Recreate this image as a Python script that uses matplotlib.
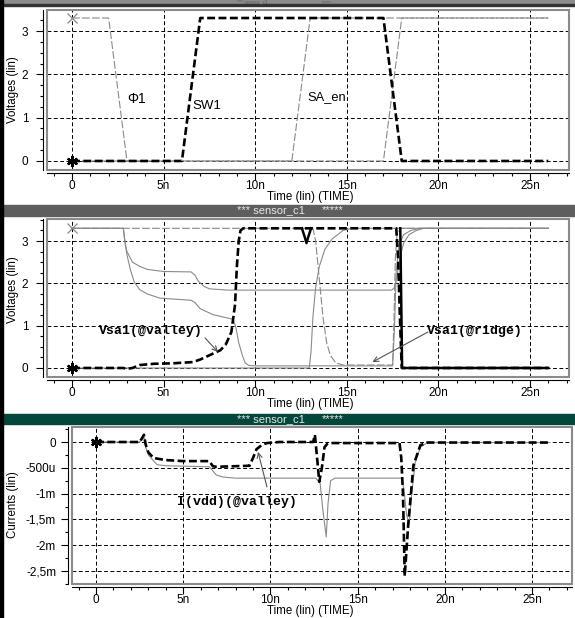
import numpy as np
import matplotlib
matplotlib.use("Agg")
import matplotlib.pyplot as plt
from matplotlib.patches import Rectangle
from matplotlib.ticker import MultipleLocator, FixedLocator, FixedFormatter

W, H = 575, 618

# ---- panel 1: control signals (time in ns, volts)
phi1_t = [0, 2.0, 3.0, 17.0, 18.0, 26.0]
phi1_v = [3.3, 3.3, 0.0, 0.0, 3.3, 3.3]
sw1_t = [0, 6.0, 7.0, 17.0, 18.0, 26.0]
sw1_v = [0.0, 0.0, 3.3, 3.3, 0.0, 0.0]
saen_t = [0, 12.0, 13.0, 26.0]
saen_v = [0.0, 0.0, 3.3, 3.3]

# ---- panel 2: sense amp nodes (volts)
upper_t = [0, 2.8, 2.9, 3.0, 3.3, 3.7, 4.1, 5.0, 6.5, 6.7, 6.9, 7.2, 7.5, 8.5,
           17.45, 17.6, 17.75, 17.9, 18.1, 18.4, 18.8, 19.2, 26.0]
upper_v = [3.3, 3.3, 2.95, 2.75, 2.5, 2.4, 2.33, 2.28, 2.27, 2.2, 2.05, 1.93, 1.87, 1.84,
           1.84, 1.9, 2.2, 2.6, 2.95, 3.15, 3.25, 3.3, 3.3]
lower_t = [0, 2.8, 2.9, 3.0, 3.2, 3.4, 3.7, 4.1, 4.8, 6.5, 6.7, 7.0, 7.7, 8.8, 8.95,
           9.1, 9.3, 9.45, 9.65, 10.0, 17.5, 17.6, 17.7, 17.85, 18.1, 18.5, 19.0, 26.0]
lower_v = [3.3, 3.3, 2.95, 2.67, 2.3, 2.03, 1.85, 1.75, 1.65, 1.6, 1.55, 1.4, 1.26, 1.15, 0.95,
           0.6, 0.3, 0.12, 0.06, 0.05, 0.05, 0.9, 2.3, 2.9, 3.15, 3.25, 3.3, 3.3]
valley_t = [0, 2.8, 3.0, 3.3, 3.7, 4.5, 5.5, 6.6, 7.0, 7.5, 8.1, 8.4, 8.7, 8.9, 9.0,
            9.1, 9.2, 9.35, 17.7, 17.8, 17.9, 18.0, 26.0]
valley_v = [0, 0, -0.02, 0.0, 0.07, 0.1, 0.11, 0.14, 0.2, 0.3, 0.42, 0.56, 0.85, 1.5, 2.4,
            3.0, 3.25, 3.3, 3.3, 2.6, 1.2, 0.0, 0.0]
ridge_t = [0, 13.15, 13.3, 13.5, 13.7, 13.9, 14.1, 14.4, 14.8, 17.5, 17.58, 17.65, 17.75, 18.0, 26.0]
ridge_v = [3.3, 3.3, 3.0, 2.1, 1.2, 0.6, 0.3, 0.12, 0.07, 0.07, 1.2, 2.6, 3.2, 3.3, 3.3]
ridgeb_t = [0, 12.95, 13.05, 13.15, 13.3, 13.5, 13.8, 14.2, 14.8, 15.3, 26.0]
ridgeb_v = [0, 0, 0.4, 1.2, 1.9, 2.4, 2.8, 3.05, 3.25, 3.3, 3.3]
latch_t = [12.55, 12.7, 12.8, 12.9, 13.05, np.nan, 17.92, 18.02, 26.0]
latch_v = [3.3, 3.1, 2.95, 3.1, 3.3, np.nan, 3.3, 0.0, 0.0]

# ---- panel 3: supply currents (mA)
ivalley_t = [0, 2.5, 2.65, 2.75, 2.85, 3.0, 3.3, 4.0, 5.0, 6.5, 6.7, 6.9, 8.8, 9.0, 9.2,
             9.5, 9.8, 10.5, 12.45, 12.55, 12.7, 12.8, 12.95, 13.1, 13.3, 17.4, 17.5,
             17.6, 17.7, 17.9, 18.2, 18.6, 19.0, 26.0]
ivalley_i = [0, 0, 0.08, 0.14, -0.05, -0.2, -0.31, -0.35, -0.37, -0.37, -0.47, -0.48, -0.46, -0.31, -0.14,
             -0.06, -0.02, 0.0, 0.0, 0.14, -0.4, -0.77, -0.5, -0.1, -0.02, -0.02, -0.3,
             -1.0, -2.6, -1.6, -0.45, -0.06, -0.01, -0.01]
iridge_t = [0, 2.5, 2.65, 2.75, 2.85, 3.0, 3.5, 4.0, 6.5, 6.7, 6.9, 7.3, 8.0, 12.6, 12.85,
            13.0, 13.2, 13.3, 13.45, 13.7, 17.5, 17.65, 17.8, 17.95, 18.1, 18.3, 18.6, 19.0, 26.0]
iridge_i = [0, 0, 0.06, 0.1, -0.1, -0.25, -0.44, -0.46, -0.48, -0.56, -0.64, -0.68, -0.7, -0.7, -0.8,
            -1.3, -1.84, -1.2, -0.75, -0.7, -0.7, -0.9, -1.4, -1.6, -1.0, -0.4, -0.1, -0.01, -0.01]

time_ticks = [0, 5, 10, 15, 20, 25]
time_labels = ["0", "5n", "10n", "15n", "20n", "25n"]
volt_ticks = [0, 1, 2, 3]
volt_labels = ["0", "1", "2", "3"]
cur_ticks = [0, -0.5, -1.0, -1.5, -2.0, -2.5]
cur_labels = ["0", "-500u", "-1m", "-1,5m", "-2m", "-2,5m"]

NARROW = ["Liberation Sans Narrow", "Liberation Sans", "DejaVu Sans"]
SANS = ["Liberation Sans", "DejaVu Sans"]
MONO = ["Liberation Mono", "DejaVu Sans Mono"]
GRAY = "#8a8a8a"

fig = plt.figure(figsize=(W / 100, H / 100), dpi=100)


def rect(l, t, r, b):
    return [l / W, 1 - b / H, (r - l) / W, (b - t) / H]


def fx(x):
    return x / W


def fy(y):
    return 1 - y / H


def setup(ax, xlim, ylim, yt, yl, ypad, yminor):
    ax.set_xlim(xlim)
    ax.set_ylim(ylim)
    for s in ["top", "right"]:
        ax.spines[s].set_visible(False)
    ax.spines["left"].set_position(("outward", 2.9))
    ax.spines["bottom"].set_position(("outward", 2.2))
    for s in ["left", "bottom"]:
        ax.spines[s].set_linewidth(0.8)
    ax.add_patch(Rectangle((0, 0), 1, 1, transform=ax.transAxes, fill=False,
                           ec=GRAY, lw=1.5, clip_on=False, zorder=5))
    ax.xaxis.set_major_locator(FixedLocator(time_ticks))
    ax.xaxis.set_major_formatter(FixedFormatter(time_labels))
    ax.xaxis.set_minor_locator(MultipleLocator(1))
    ax.yaxis.set_major_locator(FixedLocator(yt))
    ax.yaxis.set_major_formatter(FixedFormatter(yl))
    ax.yaxis.set_minor_locator(MultipleLocator(yminor))
    ax.tick_params(which="major", length=5, width=0.8, pad=0.2, labelsize=8.5)
    ax.tick_params(axis="y", which="major", pad=ypad)
    ax.tick_params(which="minor", length=2.5, width=0.8)
    for lab in ax.get_xticklabels() + ax.get_yticklabels():
        lab.set_family(NARROW)
    ax.grid(True, which="major", color="k", lw=0.7, ls=(0, (4, 2.5)))
    ax.set_axisbelow(True)


thick = dict(color="k", lw=1.9, ls=(0, (3, 1.3)))
thin = dict(color=GRAY, lw=0.8)
thin_d = dict(color=GRAY, lw=0.8, ls=(0, (7, 2)))
arrow = dict(arrowstyle="->", color="#555555", lw=0.8, shrinkA=0, shrinkB=0, mutation_scale=9)

# ---------------- panel 1
ax1 = fig.add_axes(rect(47, 10, 569, 170))
setup(ax1, (-1.365, 27.13), (-0.208, 3.485), volt_ticks, volt_labels, 5.5, 0.25)
ax1.plot(phi1_t, phi1_v, **thin_d)
ax1.plot(saen_t, saen_v, **thin_d)
ax1.plot(sw1_t, sw1_v, **thick)
ax1.plot(phi1_t[0], phi1_v[0], marker="x", color=GRAY, ms=7, mew=0.9, clip_on=False)
ax1.plot(sw1_t[0], sw1_v[0], marker=(6, 2, 0), color="k", ms=8, mew=1.6, clip_on=False)
ax1.text(3.55, 1.43, "\u03a61", fontsize=10, family=SANS, ha="center", va="center")
ax1.text(7.37, 1.27, "SW1", fontsize=9.5, family=SANS, ha="center", va="center")
ax1.text(13.9, 1.48, "SA_en", fontsize=9.3, family=SANS, ha="center", va="center")

# ---------------- panel 2
ax2 = fig.add_axes(rect(47, 219, 569, 377))
setup(ax2, (-1.365, 27.13), (-0.213, 3.52), volt_ticks, volt_labels, 5.5, 0.25)
ax2.plot(upper_t, upper_v, **thin)
ax2.plot(lower_t, lower_v, **thin)
ax2.plot(ridgeb_t, ridgeb_v, **thin)
ax2.plot(ridge_t, ridge_v, **thin_d)
ax2.plot(valley_t, valley_v, **thick)
ax2.plot(latch_t, latch_v, color="k", lw=1.8)
ax2.plot(upper_t[0], upper_v[0], marker="x", color=GRAY, ms=7, mew=0.9, clip_on=False)
ax2.plot(valley_t[0], valley_v[0], marker=(6, 2, 0), color="k", ms=8, mew=1.6, clip_on=False)
ax2.text(4.3, 0.87, "Vsa1(@valley)", fontsize=9.5, family=MONO, weight="bold",
         ha="center", va="center")
ax2.annotate("", xy=(7.97, 0.38), xytext=(7.26, 0.71), arrowprops=arrow)
ax2.text(22.0, 0.87, "Vsa1(@ridge)", fontsize=9.5, family=MONO, weight="bold",
         ha="center", va="center")
ax2.annotate("", xy=(16.4, 0.14), xytext=(19.43, 0.85), arrowprops=arrow)

# ---------------- panel 3
ax3 = fig.add_axes(rect(72, 427, 572, 584))
setup(ax3, (-1.376, 27.29), (-2.752, 0.291), cur_ticks, cur_labels, 3.5, 0.25)
ax3.plot(iridge_t, iridge_i, **thin)
ax3.plot(ivalley_t, ivalley_i, **thick)
ax3.plot(ivalley_t[0], ivalley_i[0], marker=(6, 2, 0), color="k", ms=8, mew=1.6, clip_on=False)
ax3.text(8.1, -1.16, "I(vdd)(@valley)", fontsize=9.5, family=MONO, weight="bold",
         ha="center", va="center")
ax3.annotate("", xy=(9.29, -0.19), xytext=(9.8, -0.87), arrowprops=arrow)

# ---------------- axis titles
for yc in (197, 404, 611):
    fig.text(fx(310), fy(yc), "Time (lin) (TIME)", fontsize=8.3, family=SANS,
             ha="center", va="center")
fig.text(fx(13), fy(90), "Voltages (lin)", fontsize=8.3, family=SANS, rotation=90,
         ha="center", va="center")
fig.text(fx(13), fy(290), "Voltages (lin)", fontsize=8.3, family=SANS, rotation=90,
         ha="center", va="center")
fig.text(fx(13), fy(505), "Currents (lin)", fontsize=8.3, family=SANS, rotation=90,
         ha="center", va="center")


# ---------------- window title bars
def bar(top, bottom, color, tcolor, ytext, size):
    fig.add_artist(Rectangle((0, fy(bottom)), 1, (bottom - top) / H, transform=fig.transFigure,
                             color=color, zorder=0))
    fig.text(fx(237), fy(ytext), "*** sensor_c1", fontsize=size, family=SANS, color=tcolor,
             ha="left", va="center")
    fig.text(fx(322), fy(ytext), "*****", fontsize=size, family=SANS, color=tcolor,
             ha="left", va="center")


bar(0, 4.5, "#8c8c8c", "#5a5a5a", 2.3, 3.6)
fig.add_artist(Rectangle((0, fy(5.5)), 1, 1.2 / H, transform=fig.transFigure, color="#333333"))
bar(205, 216, "#5e5e5e", "#e8e8e8", 210.5, 8)
bar(414, 424, "#02473a", "#e8e8e8", 419, 8)
fig.add_artist(Rectangle((0, 0), 2.7 / W, 1, transform=fig.transFigure, color="k"))

fig.savefig("out.png", dpi=100)
